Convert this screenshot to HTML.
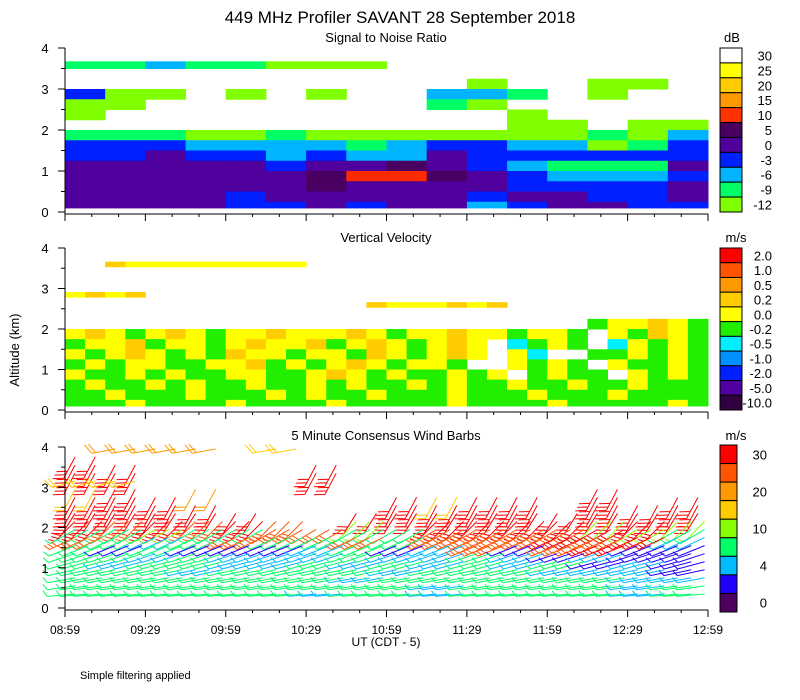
<!DOCTYPE html>
<html><head><meta charset="utf-8"><style>
html,body{margin:0;padding:0;background:#fff;}
svg{display:block;font-family:"Liberation Sans",sans-serif;}
text{fill:#000;}
</style></head><body>
<svg id="chart" width="800" height="700" viewBox="0 0 800 700">
<text x="400" y="23" font-size="17" text-anchor="middle">449 MHz Profiler SAVANT 28 September 2018</text>
<text x="386" y="42" font-size="13" text-anchor="middle">Signal to Noise Ratio</text>
<text x="386" y="242" font-size="13" text-anchor="middle">Vertical Velocity</text>
<text x="386" y="440" font-size="13" text-anchor="middle">5 Minute Consensus Wind Barbs</text>
<text x="732" y="42" font-size="13" text-anchor="middle">dB</text>
<text x="736" y="242" font-size="13" text-anchor="middle">m/s</text>
<text x="736" y="440" font-size="13" text-anchor="middle">m/s</text>
<text transform="translate(19,350) rotate(-90)" font-size="13" text-anchor="middle">Altitude (km)</text>
<text x="386" y="646" font-size="12" text-anchor="middle">UT  (CDT - 5)</text>
<text x="80" y="679" font-size="11">Simple filtering applied</text>
<g id="layer"></g>
</svg>
<script>
const timeLabels = ["08:59","09:29","09:59","10:29","10:59","11:29","11:59","12:29","12:59"];
const altTicks = [0,1,2,3,4];
const snrLabels = ["30","25","20","15","10","5","0","-3","-6","-9","-12"];
const vvLabels = ["2.0","1.0","0.5","0.2","0.0","-0.2","-0.5","-1.0","-2.0","-5.0","-10.0"];
const windLabels = ["30","20","10","4","0"];
// SNR grid: rows top (3.75-4km) to bottom (0-0.25km), 16 x 15-min columns
const snrGrid = [
"................",
"GGCGGLLL........",
"................",
"..........L..LL.",
"BLL.L.L..CCG.L..",
"LL.......GL.....",
"L..........L....",
"...........LL.LL",
"GGGLLGLLLLLLLGLC",
"BBBCCCCGCBBCCLGB",
"BBPBBCBCCPBBBBBB",
"PPPPPBPPDPBCGGGP",
"PPPPPPDRRDPBCCCB",
"PPPPPPDPPPPBBBBP",
"PPPPBPPPPPBPPBBP",
"PPPPBBPBPPCBPPBB"];
// vertical velocity grid: 32 x 7.5-min columns
const vvGrid = [
"................................",
"..OYYYYYYYYY....................",
"................................",
"................................",
"YOYO............................",
"...............OYYYOYO..........",
"................................",
"..........................GYYOYG",
"YOYGYOYGYYOYYYOYGYYOYYGYYG.YGOYG",
"GYYOGYYGYOYYOGYOYGYOY.CGYG.CYGYG",
"YGYOYGYGOYYGYYGOYGYOY.YC..GGYGYG",
"GYGYYGGYYOGYGYOYGYYG..YGYG.YGGYG",
"YGGYGYGGYYGGYOYGYGGYGY.GYGG.YGYG",
"GYGGYGYGGYGGYGYGGYGYGGYGGYGGYGGG",
"GGYGGGYGGGYGYGGYGGGYGGGYGGGYGGGG",
"GGGYGGGGYGGGGYGGGGGYGGGGYGGGGGYG"];
// wind speed codes per altitude row (3.8 .. 0.2 km), 16 columns
const windAlts = [3.8,3.6,3.4,3.2,3.0,2.8,2.6,2.4,2.2,2.0,1.8,1.6,1.4,1.2,1.0,0.8,0.6,0.4,0.2];
const windGrid = [
".ooo.y..........",
"r...............",
"rr....r.........",
"rr....r.........",
"yy..............",
"yr.o.........r..",
"rrr.....ryrr.r.r",
"rrrr....rrrr.rrr",
"rrrrr..rrrrrrrrr",
"rdrdrd.l.rrrrlrl",
"gglggddggddddrlg",
"dgcgdggdgdddrdrc",
"gbgbbbcgbcdbdrbb",
"ggcgcccgccgcbcbb",
"gcggccgcgcgcgbcb",
"gggcggggcgggcccb",
"gggggggcggggggcc",
"gggggggggcggggcg",
"ggggggcggcggggcg"];
const windDir = [10,62,62,62,15,62,62,62,58,45,30,25,22,18,15,12,10,8,5];

const NS="http://www.w3.org/2000/svg";
const L=document.getElementById('layer');
function mk(tag,attrs,parent){const e=document.createElementNS(NS,tag);for(const k in attrs)e.setAttribute(k,attrs[k]);(parent||L).appendChild(e);return e;}
const X0=65,X1=708;
const panels=[{top:48,bot:212},{top:248,bot:410},{top:447,bot:608}];
const xScale=h=>X0+(X1-X0)*h/4;
function yScale(p,km){return p.bot-(p.bot-p.top)*km/4;}

const snrColors={L:"#80ff00",G:"#00ff66",C:"#00b4ff",B:"#0020ff",P:"#50009c",D:"#4a0060",R:"#ff2a00"};
const vvColors={Y:"#ffff00",G:"#22ee00",O:"#ffcc00",C:"#00eeff"};
const windColors={b:"#2200ff",c:"#00bbff",g:"#00ff66",l:"#88ff00",y:"#ffcc00",o:"#ff9900",d:"#ff5500",r:"#ff0000"};
const windSpeed={b:6,c:8,g:12,l:14,y:20,o:22,d:26,r:32};

const g1=mk('g',{});


snrGrid.forEach((row,ri)=>{const km=4-(ri+1)*0.25;const lo=Math.max(km,0.1);
 [...row].forEach((c,ci)=>{if(c==='.')return;
  const x=xScale(ci*0.25),w=xScale((ci+1)*0.25)-x;let y=yScale(panels[0],km+0.25),h=yScale(panels[0],lo)-y;
  if(ri===1){y+=h*0.3;h*=0.7;}
  const r=mk('rect',{x:x,y:y,width:w+0.5,height:h+0.5,fill:snrColors[c]},g1);
  
  });});

const g2=mk('g',{});


vvGrid.forEach((row,ri)=>{const km=4-(ri+1)*0.25;const lo=Math.max(km,0.1);
 [...row].forEach((c,ci)=>{if(c==='.')return;
  const x=xScale(ci*0.125),w=xScale((ci+1)*0.125)-x;let y=yScale(panels[1],km+0.25),h=yScale(panels[1],lo)-y;
  if(ri<7){y+=h*0.35;h*=0.5;}
  const r=mk('rect',{x:x,y:y,width:w+0.5,height:h+0.5,fill:vvColors[c]},g2);
  
  });});

const g3=mk('g',{'stroke-width':1,fill:'none'});


windGrid.forEach((row,ri)=>{const km=windAlts[ri];const ang=windDir[ri]*Math.PI/180;
 const per=ri<9?2:3;
 [...row].forEach((c,ci)=>{if(c==='.')return;
  for(let k=0;k<per;k++){
   const hx=xScale(ci*0.25+k/(4*per))+10, hy=yScale(panels[2],km)-6;
   const len=ri<9?24:28;
   const tx=hx-len*Math.cos(ang), ty=hy+len*Math.sin(ang);
   let d=`M${hx},${hy}L${tx},${ty}`;
   const n=Math.max(1,Math.round(windSpeed[c]/10));
   const ba=ang+2*Math.PI/3;
   const bl=ri<9?11:7;
   for(let b=0;b<n;b++){const bx=tx+4*b*Math.cos(ang),by=ty-4*b*Math.sin(ang);
     d+=`M${bx},${by}l${bl*Math.cos(ba)},${-bl*Math.sin(ba)}`;}
   const p=mk('path',{d:d,stroke:windColors[c]},g3);
   
   
  }});});

panels.forEach((p,pi)=>{
 const ax=mk('g',{stroke:'#000','stroke-width':1});
 
 
 mk('path',{d:`M${X0},${p.top}V${p.bot+2}M${X0},${p.bot+2}H${X1}`},ax);
 for(let v=0;v<=4;v+=0.5){const y=yScale(p,v);mk('path',{d:`M${X0-(v%1?4:7)},${y}H${X0}`},ax);}
 for(let m=0;m<=24;m++){const x=xScale(m/6);mk('path',{d:`M${x},${p.bot+2}v${m%3?3:7}`},ax);}
 altTicks.forEach(v=>{const t=mk('text',{x:X0-20,y:yScale(p,v)+5,'font-size':13,'text-anchor':'middle'});t.textContent=v;
  
  });
});
timeLabels.forEach((s,i)=>{const t=mk('text',{x:xScale(i*0.5),y:634,'font-size':12,'text-anchor':'middle'});t.textContent=s;
 
 });

function colorbar(top,bot,x,w,cols,labels,every,name){
 const g=mk('g',{});
 
 
 const h=(bot-top)/cols.length;
 cols.forEach((c,i)=>mk('rect',{x:x,y:top+i*h,width:w,height:h,fill:c,stroke:'#000','stroke-width':1},g));
 labels.forEach((s,i)=>{const t=mk('text',{x:x+w+30,y:top+(i*every+0.5)*h+5,'font-size':13,'text-anchor':'end'},g);t.textContent=s;
  
  });
}
colorbar(48,212,720,22,["#ffffff","#ffff00","#ffcc00","#ff9900","#ff3300","#4a0060","#50009c","#0020ff","#00b4ff","#00ff66","#80ff00"],snrLabels,1,'snr-colorbar');
colorbar(248,410,720,22,["#ff0000","#ff5500","#ff9900","#ffcc00","#ffff00","#22ee00","#00eeff","#0090ff","#0020ff","#5000a0","#300040"],vvLabels,1,'vv-colorbar');
colorbar(445,612,720,17,["#ff0000","#ff5500","#ff9900","#ffcc00","#88ff00","#00ff66","#00bbff","#2200ff","#500060"],windLabels,2,'wind-colorbar');
</script>
</body></html>
